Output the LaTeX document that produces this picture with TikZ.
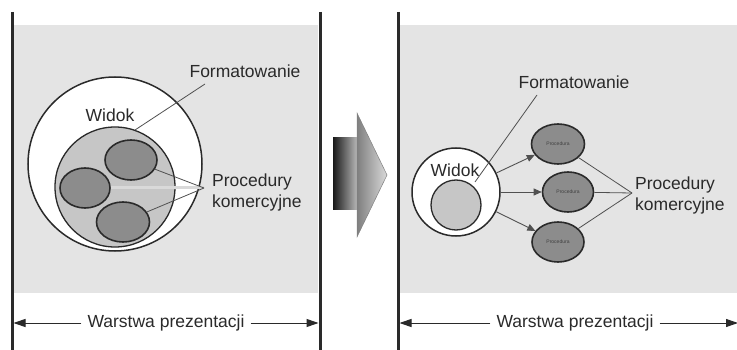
\documentclass[tikz,border=0pt]{standalone}
\usepackage{fontspec}
\setmainfont{Liberation Sans}
\usetikzlibrary{arrows.meta,shapes.geometric}

\definecolor{panelgray}{HTML}{E4E4E4}
\definecolor{innergray}{HTML}{C6C6C6}
\definecolor{procgray}{HTML}{8C8C8C}
\definecolor{inkgray}{HTML}{2A2A2A}
\definecolor{leadgray}{HTML}{505050}

\tikzset{
  panel/.style={fill=panelgray, draw=none},
  wall/.style={line width=3pt, draw=inkgray},
  viewcircle/.style={circle, draw=inkgray, line width=1.5pt, fill=white, inner sep=0pt},
  corecircle/.style={circle, draw=inkgray, line width=1.3pt, fill=innergray, inner sep=0pt},
  procellipse/.style={ellipse, draw=inkgray, line width=1.6pt, fill=procgray, inner sep=0pt},
  label/.style={text=inkgray, font=\fontsize{17.5}{21}\selectfont, inner sep=0pt},
  lead/.style={draw=leadgray, line width=0.8pt},
  lightlead/.style={draw=black!15, line width=3pt},
  flow/.style={draw=leadgray, line width=0.9pt, -{Triangle[length=8pt,width=7pt]}},
  dimline/.style={draw=inkgray, line width=1pt, -{Triangle[length=12pt,width=8pt]}},
  tinytext/.style={text=black!75, font=\fontsize{5}{5}\selectfont, inner sep=0pt}
}

\begin{document}
\begin{tikzpicture}[x=1pt, y=-1pt]
  \useasboundingbox (0,0) rectangle (737,350);
  \fill[white] (0,0) rectangle (737,350);

  % ---- background panels and layer walls ----
  \fill[panel] (14,25) rectangle (318,293);
  \fill[panel] (400,25) rectangle (737,293);
  \draw[wall] (12,12) -- (12,350);
  \draw[wall] (320,12) -- (320,350);
  \draw[wall] (398,12) -- (398,350);

  % ---- left: view containing the business procedures ----
  \node[viewcircle, minimum size=174pt] (outerL) at (115,164) {};
  \node[corecircle, minimum size=120pt] (innerL) at (115,187) {};
  \node[procellipse, minimum width=52pt, minimum height=40pt] (pL1) at (131,160) {};
  \node[procellipse, minimum width=50pt, minimum height=40pt] (pL2) at (85,188) {};
  \node[procellipse, minimum width=53pt, minimum height=40pt] (pL3) at (123,222) {};

  \node[label] (fmtL) at (245,71) {Formatowanie};
  \node[label] (widokL) at (110,115) {Widok};
  \node[label, align=left, anchor=west] (procL) at (212,192) {Procedury\\komercyjne};

  \coordinate (fL0) at (205,84);
  \coordinate (fL1) at (135,130);
  \draw[lead] (fL0) -- (fL1);

  \coordinate (cL) at (204,188);
  \draw[lightlead] (cL) -- (pL2.east);
  \draw[lead] (cL) -- (pL1);
  \draw[lead] (cL) -- (pL3);

  % ---- transition arrow ----
  \shade[left color=black!90, right color=black!28] (333,138) rectangle (357,210);
  \shade[left color=black!50, right color=black!15, draw=black!50, line width=0.5pt]
    (357,113) -- (387,175) -- (357,237) -- cycle;

  % ---- right: view calling separate business procedures ----
  \node[viewcircle, minimum size=88pt] (outerR) at (456,192) {};
  \node[corecircle, minimum size=50pt] (innerR) at (456,205) {};
  \node[label] (widokR) at (455,170) {Widok};

  \node[procellipse, minimum width=53pt, minimum height=40pt] (pR1) at (558,144) {};
  \node[procellipse, minimum width=51pt, minimum height=40pt] (pR2) at (568,192) {};
  \node[procellipse, minimum width=52pt, minimum height=40pt] (pR3) at (558,242) {};
  \node[tinytext] at (pR1) {Procedura};
  \node[tinytext] at (pR2) {Procedura};
  \node[tinytext] at (pR3) {Procedura};

  \draw[flow] (outerR) -- (pR1);
  \draw[flow] (outerR) -- (pR2);
  \draw[flow] (outerR) -- (pR3);

  \node[label] (fmtR) at (574,82) {Formatowanie};
  \coordinate (fR0) at (537,95);
  \coordinate (fR1) at (475,182);
  \draw[lead] (fR0) -- (fR1);

  \node[label, align=left, anchor=west] (procR) at (635,195) {Procedury\\komercyjne};
  \coordinate (cR) at (632,193);
  \draw[lead] (cR) -- (pR1);
  \draw[lead] (cR) -- (pR2);
  \draw[lead] (cR) -- (pR3);

  % ---- layer extent markers ----
  \node[label, fill=white, inner xsep=6pt] (layerL) at (166,323) {Warstwa prezentacji};
  \coordinate (wL0) at (13.5,323);
  \coordinate (wL1) at (318.5,323);
  \draw[dimline] (layerL.west) -- (wL0);
  \draw[dimline] (layerL.east) -- (wL1);

  \node[label, fill=white, inner xsep=6pt] (layerR) at (575,323) {Warstwa prezentacji};
  \coordinate (wR0) at (399.5,323);
  \coordinate (wR1) at (738,323);
  \draw[dimline] (layerR.west) -- (wR0);
  \draw[dimline] (layerR.east) -- (wR1);
\end{tikzpicture}
\end{document}
